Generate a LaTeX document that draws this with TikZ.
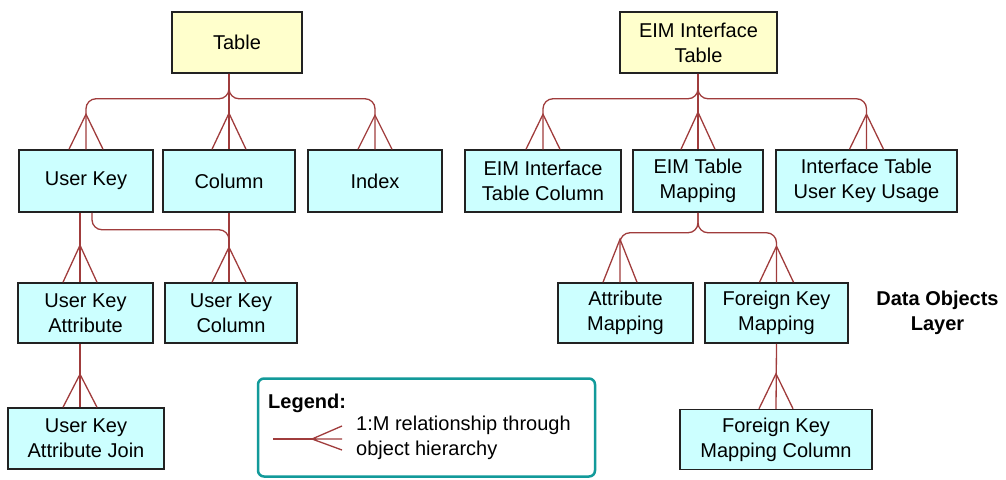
\documentclass[tikz,border=0pt]{standalone}
\usepackage{fontspec}
\setmainfont{Liberation Sans}
\definecolor{relred}{HTML}{A03C3C}
\definecolor{objcyan}{HTML}{CCFFFF}
\definecolor{tabyellow}{HTML}{FFFFCC}
\definecolor{legteal}{HTML}{129A9A}
\definecolor{boxline}{HTML}{222222}

\tikzset{
  objbox/.style={rectangle, draw=boxline, line width=1.5pt, fill=objcyan,
                 minimum height=61pt, align=center, inner sep=0pt},
  tablebox/.style={objbox, fill=tabyellow},
  rel/.style={draw=relred, line width=1.3pt, rounded corners=10pt},
  foot/.style={draw=relred, line width=1.3pt},
}

\begin{document}
\begin{tikzpicture}[x=1pt, y=-1pt, font=\fontsize{20}{25}\selectfont]
  \useasboundingbox (0,0) rectangle (1006,479);

  % Table hierarchy
  \node[tablebox, minimum width=130pt] (tbl) at (237,42.5) {Table};
  \node[objbox, minimum width=134pt, minimum height=62pt] (ukey) at (86,181) {User Key};
  \node[objbox, minimum width=132pt, minimum height=62pt] (col) at (229,181) {Column};
  \node[objbox, minimum width=134pt, minimum height=62pt] (idx) at (375,181) {Index};
  \node[objbox, minimum width=135pt, minimum height=60pt] (ukattr) at (85.5,313) {User Key\\Attribute};
  \node[objbox, minimum width=132pt, minimum height=60pt] (ukcol) at (231,313) {User Key\\Column};
  \node[objbox, minimum width=156pt] (join) at (86,438.5) {User Key\\Attribute Join};

  % EIM interface table hierarchy
  \node[tablebox, minimum width=157pt] (eim) at (698.5,42.5) {EIM Interface\\Table};
  \node[objbox, minimum width=156pt, minimum height=62pt] (eimcol) at (543,181) {EIM Interface\\Table Column};
  \node[objbox, minimum width=130pt, minimum height=62pt] (mapp) at (698,181) {EIM Table\\Mapping};
  \node[objbox, minimum width=181pt, minimum height=62pt] (usage) at (866.5,181) {Interface Table\\User Key Usage};
  \node[objbox, minimum width=135pt, minimum height=60pt] (attrmap) at (625.5,313) {Attribute\\Mapping};
  \node[objbox, minimum width=143pt, minimum height=60pt] (fkmap) at (776.5,313) {Foreign Key\\Mapping};
  \node[objbox, minimum width=192pt, minimum height=60pt] (fkcol) at (776,439.5) {Foreign Key\\Mapping Column};

  \coordinate (ukattr-in) at ([xshift=-5.5pt]ukattr.north);
  \coordinate (ukcol-in) at (col.south |- ukcol.north);
  \coordinate (join-in) at (ukattr-in |- join.north);
  \coordinate (attrmap-in) at ([xshift=-5.5pt]attrmap.north);

  % Relationships
  \draw[rel] (tbl.south -| col.north) -- (col.north);
  \draw[rel] (tbl.south -| col.north) -- ++(0,25) -| (ukey.north);
  \draw[rel] (tbl.south -| col.north) -- ++(0,25) -| (idx.north);
  \draw[rel] (ukey.south -| ukattr-in) -- (ukattr-in);
  \draw[rel] ([xshift=6pt]ukey.south) -- ++(0,17) -| (ukcol-in);
  \draw[rel] (col.south) -- (ukcol-in);
  \draw[rel] (ukattr.south -| join-in) -- (join-in);

  \draw[rel] (eim.south -| mapp.north) -- (mapp.north);
  \draw[rel] (eim.south -| mapp.north) -- ++(0,25) -| (eimcol.north);
  \draw[rel] (eim.south -| mapp.north) -- ++(0,25) -| (usage.north);
  \draw[rel] (mapp.south) -- ++(0,20) -| (attrmap-in);
  \draw[rel] (mapp.south) -- ++(0,20) -| (fkmap.north);
  \draw[rel] (fkmap.south) -- (fkcol.north);

  % Crow's feet
  \foreach \p/\h in {ukey.north/35, col.north/36, idx.north/34, ukattr-in/37,
                     ukcol-in/35, join-in/33, eimcol.north/35, mapp.north/37,
                     usage.north/35, attrmap-in/43, fkmap.north/36, fkcol.north/35} {
    \draw[foot] ([xshift=-17pt]\p) -- ([yshift=\h pt]\p) -- ([xshift=17pt]\p);
  }

  % Legend
  \node[rectangle, draw=legteal, line width=2.5pt, fill=white, rounded corners=6pt,
        minimum width=337pt, minimum height=98pt] (legend) at (426.5,427.5) {};
  \node[anchor=west, inner sep=0pt, font=\fontsize{20}{25}\selectfont\bfseries] (legtitle) at (268,403) {Legend:};
  \coordinate (legfrom) at (273,439);
  \coordinate (legfork) at (312,439);
  \draw[foot] (legfrom) -- (legfork);
  \draw[foot] (legfork) -- ++(30,-13) (legfork) -- ++(30,0) (legfork) -- ++(30,11);
  \node[anchor=west, align=left, inner sep=0pt] (legtext) at (356,437.5) {1:M relationship through\\object hierarchy};

  % Layer label
  \node[align=center, font=\fontsize{20}{25}\selectfont\bfseries] (layer) at (937.5,312.5) {Data Objects\\Layer};
\end{tikzpicture}
\end{document}
